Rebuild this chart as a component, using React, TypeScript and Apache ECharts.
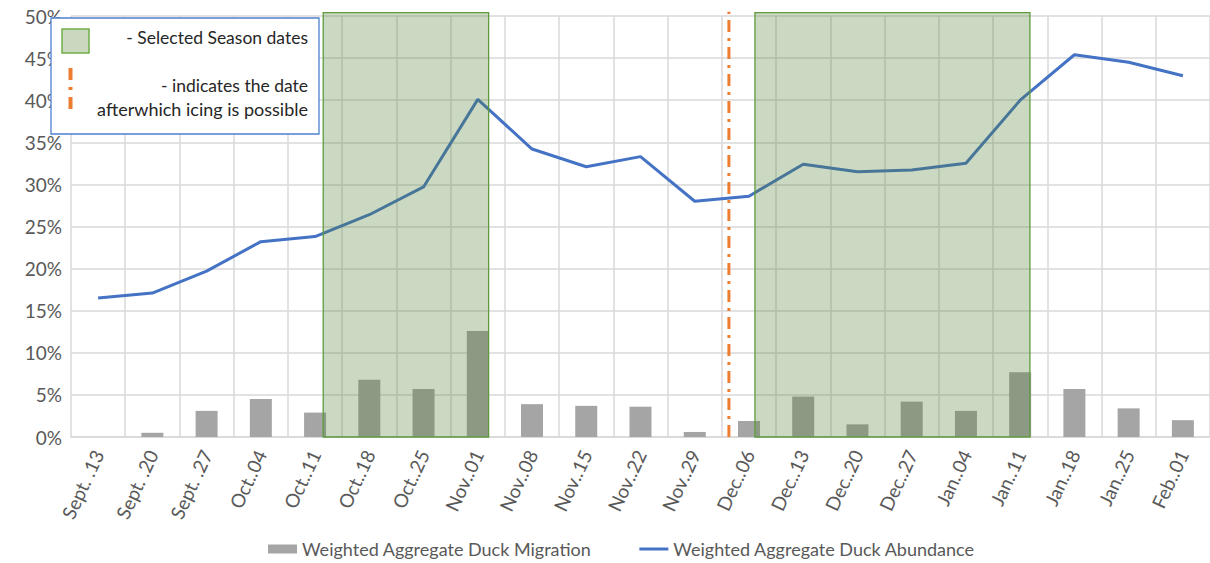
import React, { useEffect, useRef } from "react";
import * as echarts from "echarts";

const categories = [
  "Sept. .13", "Sept. .20", "Sept. .27", "Oct..04", "Oct..11", "Oct..18", "Oct..25",
  "Nov..01", "Nov..08", "Nov..15", "Nov..22", "Nov..29", "Dec..06", "Dec..13",
  "Dec..20", "Dec..27", "Jan..04", "Jan..11", "Jan..18", "Jan..25", "Feb..01",
];
const migration = [0, 0.5, 3.1, 4.5, 2.9, 6.8, 5.7, 12.6, 3.9, 3.7, 3.6, 0.6, 1.9, 4.8, 1.5, 4.2, 3.1, 7.7, 5.7, 3.4, 2.0];
const abundance = [16.5, 17.1, 19.7, 23.2, 23.8, 26.4, 29.7, 40.1, 34.2, 32.1, 33.3, 28.0, 28.6, 32.4, 31.5, 31.7, 32.5, 40.0, 45.4, 44.5, 42.9];
// season spans in category-position units (0 = left edge of first category)
const seasons = [
  [4.65, 7.7, 50.4],
  [12.61, 17.68, 50.4],
];
const icingPos = 12.13;
const yTicks = { min: 0, max: 50, interval: 5 };

const FONT = "Lato";

export default function App() {
  const ref = useRef<HTMLDivElement>(null);
  useEffect(() => {
    document.body.style.margin = "0";
    const chart = echarts.init(ref.current!, null, { renderer: "svg" });
    chart.setOption({
      animation: false,
      textStyle: { fontFamily: FONT },
      grid: { left: 71, right: -6, top: 16, bottom: 126, containLabel: false },
      legend: {
        bottom: 0,
        left: 263,
        itemGap: 48,
        itemWidth: 29,
        itemHeight: 9,
        symbolKeepAspect: true,
        textStyle: { fontFamily: FONT, fontSize: 18, color: "#595959" },
        data: [
          { name: "Weighted Aggregate Duck Migration", icon: "rect" },
          { name: "Weighted Aggregate Duck Abundance", icon: "path://M0,0H29V3H0Z" },
        ],
      },
      xAxis: [
        {
          type: "category",
          data: categories,
          boundaryGap: true,
          axisLine: { lineStyle: { color: "#d9d9d9", width: 1.5 } },
          axisTick: { show: false },
          splitLine: { show: true, lineStyle: { color: "#d9d9d9", width: 1.5 } },
          axisLabel: {
            rotate: 65,
            interval: 0,
            margin: 14,
            fontSize: 19,
            color: "#595959",
            fontFamily: FONT,
          },
        },
        { type: "value", min: 0, max: 21, show: false },
      ],
      yAxis: {
        type: "value",
        min: yTicks.min,
        max: yTicks.max,
        interval: yTicks.interval,
        axisLine: { show: false },
        axisTick: { show: false },
        splitLine: { lineStyle: { color: "#d9d9d9", width: 1.5 } },
        axisLabel: { formatter: "{value}%", fontSize: 19, color: "#595959", margin: 9, fontFamily: FONT },
      },
      series: [
        {
          name: "Weighted Aggregate Duck Migration",
          type: "bar",
          data: migration,
          barWidth: 22,
          itemStyle: { color: "#a5a5a5" },
          z: 2,
        },
        {
          name: "Weighted Aggregate Duck Abundance",
          type: "line",
          data: abundance,
          symbol: "none",
          lineStyle: { color: "#4472c4", width: 3 },
          itemStyle: { color: "#4472c4" },
          z: 3,
        },
        {
          name: "seasons",
          type: "custom",
          xAxisIndex: 1,
          data: seasons,
          encode: { x: [0, 1], y: 2 },
          z: 5,
          silent: true,
          renderItem: (params: any, api: any) => {
            const p0 = api.coord([api.value(0), api.value(2)]);
            const p1 = api.coord([api.value(1), 0]);
            return {
              type: "rect",
              shape: { x: p0[0], y: p0[1], width: p1[0] - p0[0], height: p1[1] - p0[1] },
              style: { fill: "rgba(84,130,53,0.3)", stroke: "#5f9a3f", lineWidth: 1.3 },
            };
          },
        },
        {
          name: "icing",
          type: "line",
          xAxisIndex: 1,
          data: [[icingPos, 0], [icingPos, 50.5]],
          symbol: "none",
          clip: false,
          silent: true,
          z: 6,
          lineStyle: { color: "#ed7d31", width: 3, type: [12, 6, 3, 6] },
        },
      ],
      graphic: [
        {
          type: "rect",
          z: 100,
          shape: { x: 51, y: 18, width: 268, height: 116 },
          style: { fill: "#ffffff", stroke: "#4f81d0", lineWidth: 1.3 },
        },
        {
          type: "rect",
          z: 101,
          shape: { x: 62, y: 29, width: 27, height: 24 },
          style: { fill: "#cbd8c0", stroke: "#70ad47", lineWidth: 1.5 },
        },
        { type: "rect", z: 102, shape: { x: 68.5, y: 68, width: 4, height: 12 }, style: { fill: "#ed7d31" } },
        { type: "rect", z: 102, shape: { x: 68.5, y: 87, width: 4, height: 3 }, style: { fill: "#ed7d31" } },
        { type: "rect", z: 102, shape: { x: 68.5, y: 97, width: 4, height: 12 }, style: { fill: "#ed7d31" } },
        {
          type: "text",
          z: 102,
          x: 308,
          y: 37,
          style: { text: "- Selected Season dates", align: "right", verticalAlign: "middle", font: `17.5px ${FONT}`, fill: "#262626" },
        },
        {
          type: "text",
          z: 102,
          x: 308,
          y: 85,
          style: { text: "- indicates the date", align: "right", verticalAlign: "middle", font: `17.5px ${FONT}`, fill: "#262626" },
        },
        {
          type: "text",
          z: 102,
          x: 308,
          y: 109,
          style: { text: "afterwhich icing is possible", align: "right", verticalAlign: "middle", font: `18px ${FONT}`, fill: "#262626" },
        },
      ],
    });
    return () => chart.dispose();
  }, []);
  return <div ref={ref} style={{ width: 1210, height: 563 }} />;
}
